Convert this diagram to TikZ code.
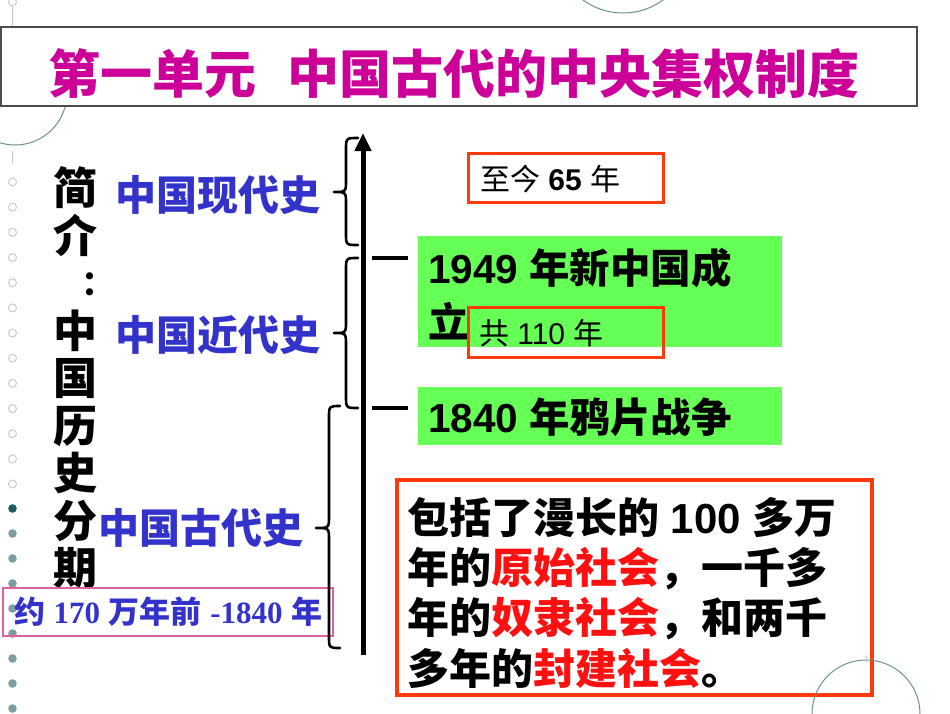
\documentclass[tikz,border=0pt]{standalone}
\usepackage{fontspec}
\setmainfont{Liberation Sans}
\newfontfamily\cjk{Noto Sans CJK SC}
\newfontfamily\tms{Liberation Serif}
\usetikzlibrary{arrows.meta}
\definecolor{titlemag}{HTML}{CC0099}
\definecolor{lblblue}{HTML}{3333CC}
\definecolor{boxred}{HTML}{FF3A0A}
\definecolor{txtred}{HTML}{FF1010}
\definecolor{boxgreen}{HTML}{66FF55}
\definecolor{pinkc}{HTML}{E0609A}
\definecolor{ringc}{HTML}{6A9096}
\definecolor{dotdark}{HTML}{1E5A62}
\definecolor{dotgray}{HTML}{7C9EA2}
\newcommand\mybrace[7]{%
  \draw[bracestyle] (#1,#4) .. controls (#2,#4) .. (#2,#4+#7) -- (#2,#5-#7)
    .. controls (#2,#5) .. (#3,#5) .. controls (#2,#5) .. (#2,#5+#7)
    -- (#2,#6-#7) .. controls (#2,#6) .. (#1,#6);}
\begin{document}
\begin{tikzpicture}[x=1pt,y=-1pt,
  every node/.style={inner sep=0pt,outer sep=0pt},
  bracestyle/.style={draw=black,line width=2.6pt,line cap=round,line join=round},
  ringline/.style={draw=ringc,line width=1pt},
  decoline/.style={draw=gray!45,line width=1pt},
  opendot/.style={draw=gray!45,line width=0.9pt},
  redbox/.style={draw=boxred,line width=3pt,anchor=north west},
  greenbox/.style={fill=boxgreen,anchor=north west},
  axisline/.style={line width=5pt,-{Triangle[width=16pt,length=18pt]}},
  tickline/.style={line width=4pt},
  blue label/.style={anchor=base west,text=lblblue,font=\cjk\bfseries\fontsize{41}{41}\selectfont},
  colchar/.style={anchor=base,font=\cjk\bfseries\fontsize{44}{44}\selectfont},
  bigtxt/.style={anchor=base west,font=\bfseries\fontsize{40.5}{40.5}\selectfont},
  smalltxt/.style={anchor=base west,font=\fontsize{30}{30}\selectfont},
  boxtxt/.style={anchor=base west,font=\bfseries\fontsize{42}{42}\selectfont}]
\useasboundingbox (0,0) rectangle (950,713);
% decorative template
\draw[ringline] (15,93) circle (52);
\draw[ringline] (623,-55) circle (68);
\draw[opendot] (12.5,2) circle (4);
\draw[decoline] (12.5,6) -- (12.5,27);
\draw[decoline] (12.5,151) -- (12.5,164);
\foreach \k in {0,...,12} \draw[opendot] (12.5,182+25.17*\k) circle (4);
\fill[dotdark] (12.5,508.5) circle (4.3);
\foreach \k in {1,...,8} \fill[dotgray] (12.5,508.5+25*\k) circle (4.3);
% title
\node[draw=gray!60!black,line width=2pt,fill=white,minimum width=916,minimum height=79,anchor=north west] (titlebox) at (1,27) {};
\node[anchor=base west,text=titlemag,font=\cjk\bfseries\fontsize{52}{52}\selectfont] (title) at (48,93.5) {第一单元\hspace{32pt}中国古代的中央集权制度};
% left column
\foreach \ch/\yy/\nm in {简/204.7/a,介/252.2/b,中/347.2/c,国/394.7/d,历/442.2/e,史/489.7/f,分/537.2/g,期/584.7/h}
  \node[colchar] (col\nm) at (75,\yy) {\ch};
\node[anchor=center,font=\cjk\bfseries\fontsize{34}{34}\selectfont] (colon) at (98,284) {：};
% blue labels
\node[blue label] (modern) at (115,210.6) {中国现代史};
\node[blue label] (recent) at (115,350.6) {中国近代史};
\node[blue label] (ancient) at (98,543.6) {中国古代史};
\node[draw=pinkc,line width=1.3pt,minimum width=330,minimum height=48,anchor=north west] (pinkbox) at (3,588) {};
\node[anchor=base west,text=lblblue,font=\bfseries\fontsize{31}{31}\selectfont] (pinktext) at (14,623.8) {{\cjk 约} {\tms 170} {\cjk 万年前} {\tms -1840} {\cjk 年}};
% braces
\mybrace{358}{346}{334}{138}{192}{245}{12}
\mybrace{358}{346}{334}{258}{333}{408}{12}
\mybrace{340}{329}{316}{406}{528}{648}{12}
% axis
\coordinate (axbot) at (363,655);
\coordinate (axtop) at (363,133);
\draw[axisline] (axbot) -- (axtop);
\coordinate (t1a) at (372,258); \coordinate (t1b) at (408,258);
\coordinate (t2a) at (372,408); \coordinate (t2b) at (408,408);
\draw[tickline] (t1a) -- (t1b);
\draw[tickline] (t2a) -- (t2b);
% right boxes
\node[greenbox,minimum width=364,minimum height=111] (g1) at (418,236) {};
\node[greenbox,minimum width=364,minimum height=58] (g2) at (418,387) {};
\node[redbox,minimum width=195,minimum height=49] (r1) at (468,153) {};
\node[smalltxt] (r1t) at (480,190.4) {{\cjk 至今} \textbf{65} {\cjk 年}};
\node[bigtxt] (g1a) at (428,283.4) {1949 {\cjk 年新中国成}};
\node[bigtxt] (g1b) at (428,337.4) {\cjk 立};
\node[redbox,minimum width=195,minimum height=50] (r2) at (468,307) {};
\node[smalltxt] (r2t) at (479,344.4) {{\cjk 共} 110 {\cjk 年}};
\node[bigtxt] (g2t) at (428,432.4) {1840 {\cjk 年鸦片战争}};
% big red box
\node[draw=boxred,line width=4pt,minimum width=475,minimum height=215,anchor=north west] (r3) at (397,480) {};
\node[boxtxt] (l1) at (407,533) {{\cjk 包括了漫长的} 100 {\cjk 多万}};
\node[boxtxt] (l2) at (407,583) {\cjk 年的\textcolor{txtred}{原始社会}，一千多};
\node[boxtxt] (l3) at (407,633) {\cjk 年的\textcolor{txtred}{奴隶社会}，和两千};
\node[boxtxt] (l4) at (407,684) {\cjk 多年的\textcolor{txtred}{封建社会}。};
% bottom-right ring
\draw[ringline] (866,714) circle (54);
\draw[decoline] (866,655) -- (866,662);
\end{tikzpicture}
\end{document}
